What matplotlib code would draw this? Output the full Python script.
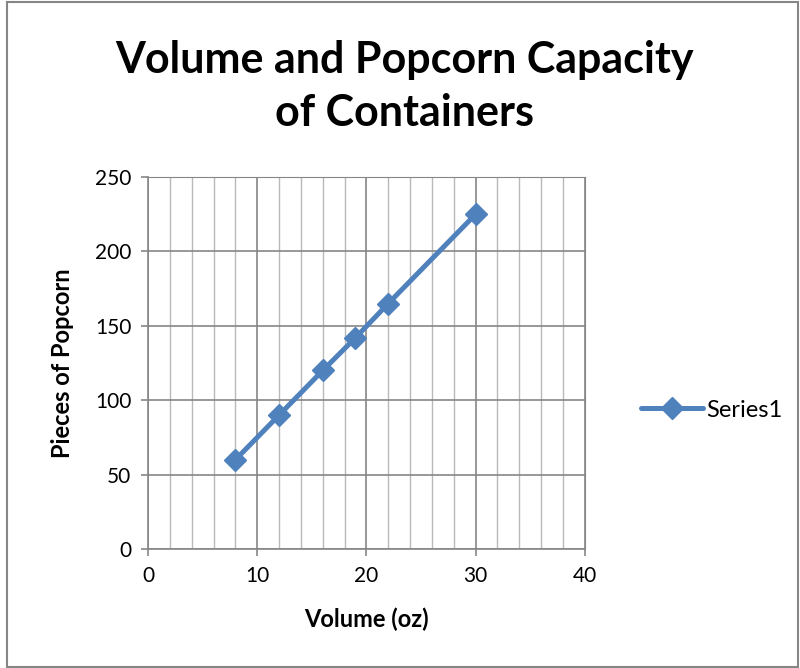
import matplotlib.pyplot as plt
from matplotlib.patches import Rectangle
from matplotlib.ticker import MultipleLocator

plt.rcParams['font.family'] = ['Lato', 'DejaVu Sans']

volume = [8, 12, 16, 19, 22, 30]
popcorn = [60, 90, 120, 142, 165, 225]

blue = '#4f81bd'

fig = plt.figure(figsize=(8, 6.68), dpi=100)
ax = fig.add_axes([0.185, 0.178, 0.546, 0.557])

ax.plot(volume, popcorn, color=blue, linewidth=3.6, marker='D', markersize=11,
        label='Series1', solid_capstyle='round')

ax.set_xlim(0, 40)
ax.set_ylim(0, 250)
ax.xaxis.set_major_locator(MultipleLocator(10))
ax.xaxis.set_minor_locator(MultipleLocator(2))
ax.yaxis.set_major_locator(MultipleLocator(50))

ax.grid(which='major', axis='both', color='#868686', linewidth=1.2)
ax.grid(which='minor', axis='x', color='#b9b9b9', linewidth=1.0)
ax.set_axisbelow(True)

for side in ['top', 'right']:
    ax.spines[side].set_color('#868686')
for side in ['left', 'bottom']:
    ax.spines[side].set_color('#868686')
    ax.spines[side].set_linewidth(1.2)

ax.tick_params(which='major', length=5, width=1.2, color='#868686', labelsize=15, pad=7)
ax.tick_params(which='minor', length=0)

ax.set_xlabel('Volume (oz)', fontsize=17, fontweight='bold', labelpad=16)
ax.set_ylabel('Pieces of Popcorn', fontsize=17, fontweight='bold', labelpad=15)

fig.text(0.506, 0.87, 'Volume and Popcorn Capacity\nof Containers', ha='center', va='center',
         fontsize=31, fontweight='bold', linespacing=1.4)

fig.legend(loc='center left', bbox_to_anchor=(0.775, 0.386), frameon=False, fontsize=17,
           handlelength=2.6, handletextpad=0.15)

fig.patches.append(Rectangle((0.009, 0.002), 0.989, 0.995, transform=fig.transFigure,
                             fill=False, edgecolor='#868686', linewidth=1.5))

fig.savefig('out.png', dpi=100)
